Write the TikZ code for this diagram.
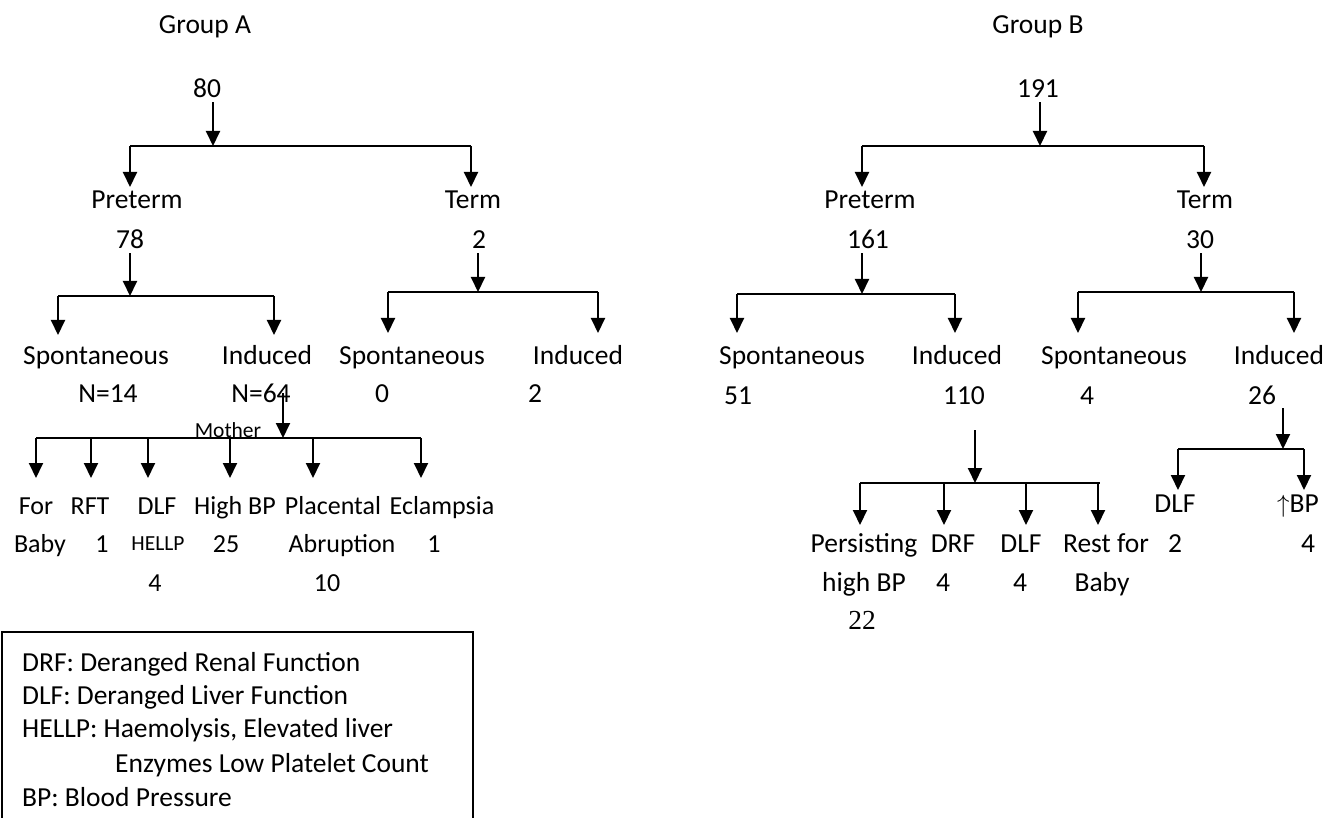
\documentclass[tikz,border=0pt]{standalone}
\usepackage{fontspec}
\setmainfont{Carlito}
\newfontfamily\timesfont{Liberation Serif}
\usetikzlibrary{arrows.meta}

\tikzset{
  txt/.style={inner sep=0pt, text height=22pt, text depth=4pt, font=\fontsize{27.5}{33}\selectfont},
  lbl/.style={txt, font=\fontsize{26}{31}\selectfont},
  sm/.style={txt, text height=17pt, text depth=3pt, font=\fontsize{21.5}{26}\selectfont},
  arr/.style={line width=2pt, -{Triangle[length=15pt,width=14pt]}},
  bar/.style={line width=1.8pt},
}

\begin{document}
\begin{tikzpicture}[x=1pt,y=-1pt]
    \useasboundingbox (0,0) rectangle (1336,818);
    % Group A
    \node[txt] (gA) at (205,25) {Group A};
    \node[txt] (nA80) at (207,89) {80};
    \coordinate (fA) at (213,146);
    \coordinate (fAl) at (130,146);
    \coordinate (fAr) at (471,146);
    \draw[arr] (nA80.south -| fA) -- (fA);
    \draw[bar] (fAl) -- (fAr);
    \draw[arr] (fAl) -- ++(0,41);
    \draw[arr] (fAr) -- ++(0,41);
    \node[txt] (pretA) at (137,200) {Preterm};
    \node[txt] (termA) at (473,200) {Term};
    \node[txt] (nA78) at (130,240) {78};
    \node[txt] (nA2) at (479,240) {2};
    \coordinate (fAp) at (130,296);
    \coordinate (fApl) at (58,296);
    \coordinate (fApr) at (274,296);
    \draw[arr] (nA78.south -| fAp) -- (fAp);
    \draw[bar] (fApl) -- (fApr);
    \draw[arr] (fApl) -- ++(0,39);
    \draw[arr] (fApr) -- ++(0,39);
    \coordinate (fAt) at (478,292);
    \coordinate (fAtl) at (388,292);
    \coordinate (fAtr) at (598,292);
    \draw[arr] (nA2.south -| fAt) -- (fAt);
    \draw[bar] (fAtl) -- (fAtr);
    \draw[arr] (fAtl) -- ++(0,41);
    \draw[arr] (fAtr) -- ++(0,41);
    \node[txt] (spA1) at (96,355) {Spontaneous};
    \node[txt] (indA1) at (267,355) {Induced};
    \node[txt] (spA2) at (412,355) {Spontaneous};
    \node[txt] (indA2) at (578,355) {Induced};
    \node[txt] (nA14) at (108,393) {N=14};
    \node[txt] (nA64) at (261,393) {N=64};
    \node[txt] (nA0) at (382,393) {0};
    \node[txt] (nA2b) at (535,393) {2};
    % mother
    \node[sm] (mother) at (228,430) {Mother};
    \coordinate (fAm) at (283,438);
    \draw[arr] (nA64.center -| fAm) -- (fAm);
    \draw[bar] (36,438) -- (421,438);
    \foreach \x in {36,91,148,230,313,421}
        \draw[arr] (\x,438) -- ++(0,40);
    \node[lbl] (forA) at (36,505) {For};
    \node[lbl] (babyA) at (40,543) {Baby};
    \node[lbl] (rftA) at (90,505) {RFT};
    \node[lbl] (rftn) at (102,543) {1};
    \node[lbl] (dlfA) at (157,505) {DLF};
    \node[sm] (hellp) at (158,543) {HELLP};
    \node[lbl] (dlfn) at (155,582) {4};
    \node[lbl] (hbpA) at (235,505) {High BP};
    \node[lbl] (hbpn) at (226,543) {25};
    \node[lbl] (plac) at (333,505) {Placental};
    \node[lbl] (abru) at (342,543) {Abruption};
    \node[lbl] (placn) at (327,582) {10};
    \node[lbl] (ecl) at (442,505) {Eclampsia};
    \node[lbl] (ecln) at (434,543) {1};
    % legend
    \draw[line width=1.4pt] (2,818) |- (473,632) -- (473,818);
    \node[txt,anchor=west] (lg1) at (22,662) {DRF: Deranged Renal Function};
    \node[txt,anchor=west] (lg2) at (22,695) {DLF: Deranged Liver Function};
    \node[txt,anchor=west] (lg3) at (22,728) {HELLP: Haemolysis, Elevated liver};
    \node[txt,anchor=west] (lg4) at (115,763) {Enzymes Low Platelet Count};
    \node[txt,anchor=west] (lg5) at (22,797) {BP: Blood Pressure};

    % Group B
    \node[txt] (gB) at (1038,25) {Group B};
    \node[txt] (nB191) at (1038,89) {191};
    \coordinate (fB) at (1040,146);
    \coordinate (fBl) at (862,146);
    \coordinate (fBr) at (1204,146);
    \draw[arr] (nB191.south -| fB) -- (fB);
    \draw[bar] (fBl) -- (fBr);
    \draw[arr] (fBl) -- ++(0,41);
    \draw[arr] (fBr) -- ++(0,41);
    \node[txt] (pretB) at (870,200) {Preterm};
    \node[txt] (termB) at (1205,200) {Term};
    \node[txt] (nB161) at (868,240) {161};
    \node[txt] (nB30) at (1200,240) {30};
    \coordinate (fBp) at (862,294);
    \coordinate (fBpl) at (737,294);
    \coordinate (fBpr) at (955,294);
    \draw[arr] (nB161.south -| fBp) -- (fBp);
    \draw[bar] (fBpl) -- (fBpr);
    \draw[arr] (fBpl) -- ++(0,39);
    \draw[arr] (fBpr) -- ++(0,39);
    \coordinate (fBt) at (1201,292);
    \coordinate (fBtl) at (1078,292);
    \coordinate (fBtr) at (1294,292);
    \draw[arr] (nB30.south -| fBt) -- (fBt);
    \draw[bar] (fBtl) -- (fBtr);
    \draw[arr] (fBtl) -- ++(0,41);
    \draw[arr] (fBtr) -- ++(0,41);
    \node[txt] (spB1) at (792,355) {Spontaneous};
    \node[txt] (indB1) at (957,355) {Induced};
    \node[txt] (spB2) at (1114,355) {Spontaneous};
    \node[txt] (indB2) at (1279,355) {Induced};
    \node[txt] (nB51) at (738,395) {51};
    \node[txt] (nB110) at (964,395) {110};
    \node[txt] (nB4) at (1087,395) {4};
    \node[txt] (nB26) at (1262,395) {26};
    % induced 110
    \coordinate (fBi0) at (975,430);
    \coordinate (fBi) at (975,483);
    \draw[arr] (fBi0) -- (fBi);
    \draw[bar] (860,483) -- (1100,483);
    \foreach \x in {860,944,1026,1098}
        \draw[arr] (\x,483) -- ++(0,42);
    \node[txt] (pers) at (864,543) {Persisting};
    \node[txt] (hbpB) at (864,582) {high BP};
    \node[txt,font=\timesfont\fontsize{27.5}{33}\selectfont] (hbpn2) at (862,620) {22};
    \node[txt] (drfB) at (953,543) {DRF};
    \node[txt] (drfn) at (943,582) {4};
    \node[txt] (dlfB) at (1021,543) {DLF};
    \node[txt] (dlfn2) at (1020,582) {4};
    \node[txt] (rest) at (1106,543) {Rest for};
    \node[txt] (babyB) at (1102,582) {Baby};
    % induced 26
    \coordinate (fBj) at (1283,449);
    \coordinate (fBjl) at (1178,449);
    \coordinate (fBjr) at (1304,449);
    \draw[arr] (nB26.south -| fBj) -- (fBj);
    \draw[bar] (fBjl) -- (fBjr);
    \draw[arr] (fBjl) -- ++(0,41);
    \draw[arr] (fBjr) -- ++(0,41);
    \node[txt] (dlfT) at (1175,503) {DLF};
    \node[txt] (bpT) at (1298,503) {$\big\uparrow$BP};
    \node[txt] (dlfTn) at (1175,543) {2};
    \node[txt] (bpTn) at (1308,543) {4};
\end{tikzpicture}
\end{document}
